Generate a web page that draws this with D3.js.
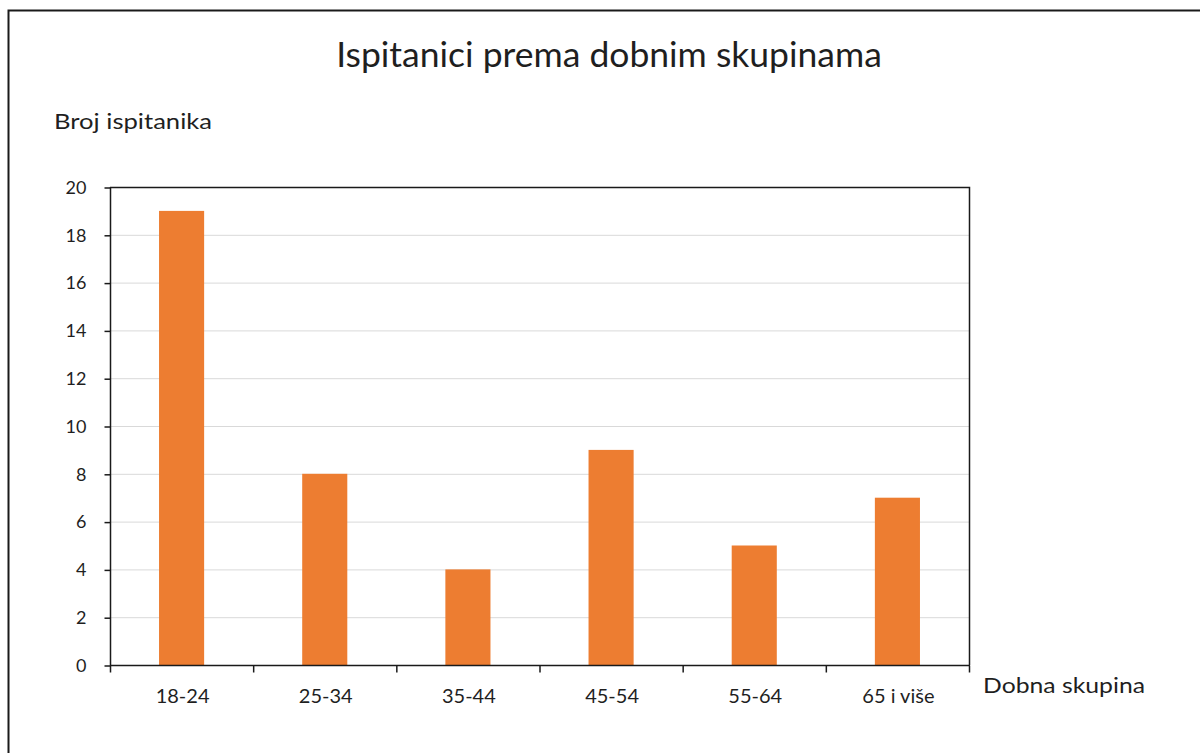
<!DOCTYPE html>
<html>
<head>
<meta charset="utf-8">
<script src="https://cdn.jsdelivr.net/npm/d3@7"></script>
<style>
  body { margin: 0; background: #fff; }
  text { font-family: Lato, "Open Sans", sans-serif; fill: #1f1f1f; }
</style>
</head>
<body>
<svg width="1200" height="753"></svg>
<script>
var groups = ["18-24", "25-34", "35-44", "45-54", "55-64", "65 i više"];
var counts = [19, 8, 4, 9, 5, 7];
var yTicks = [0, 2, 4, 6, 8, 10, 12, 14, 16, 18, 20];

var svg = d3.select("svg");

// outer frame, runs off the right and bottom edge
svg.append("rect")
    .attr("x", 8.5)
    .attr("y", 10.5)
    .attr("width", 1200)
    .attr("height", 760)
    .attr("fill", "none")
    .attr("stroke", "#1a1a1a")
    .attr("stroke-width", 2);

var plotLeft = 110, plotRight = 969, plotTop = 187, plotBottom = 665;

var x = d3.scaleBand()
    .domain(groups)
    .range([plotLeft, plotRight])
    .padding(0);

var y = d3.scaleLinear()
    .domain([0, 20])
    .range([plotBottom, plotTop]);

// gridlines
svg.selectAll(".grid")
    .data(yTicks.slice(1, -1))
    .enter().append("line")
    .attr("class", "grid")
    .attr("x1", plotLeft)
    .attr("x2", plotRight)
    .attr("y1", function(d) { return y(d) + 0.5; })
    .attr("y2", function(d) { return y(d) + 0.5; })
    .attr("stroke", "#d9d9d9")
    .attr("stroke-width", 1);

// bars
var barW = x.bandwidth() * 0.315;
svg.selectAll(".bar")
    .data(counts)
    .enter().append("rect")
    .attr("class", "bar")
    .attr("fill", "#ed7d31")
    .attr("x", function(d, i) { return x(groups[i]) + x.bandwidth() / 2 - barW / 2; })
    .attr("y", function(d) { return y(d); })
    .attr("width", barW)
    .attr("height", function(d) { return y(0) - y(d); });

// plot box top and right
svg.append("path")
    .attr("d", "M" + plotLeft + "," + (plotTop + 0.5) + "H" + (plotRight + 0.5) + "V" + plotBottom)
    .attr("fill", "none")
    .attr("stroke", "#1a1a1a")
    .attr("stroke-width", 1.5);

// y axis
var yAxis = d3.axisLeft(y)
    .tickValues(yTicks)
    .tickSize(6)
    .tickPadding(18);
var gy = svg.append("g")
    .attr("transform", "translate(" + (plotLeft + 0.5) + ",0.5)")
    .call(yAxis);
gy.select(".domain")
    .attr("d", "M0," + (plotTop - 0.5) + "V" + (plotBottom + 7))
    .attr("stroke", "#1a1a1a")
    .attr("stroke-width", 1.5);
gy.selectAll(".tick line").attr("stroke", "#1a1a1a").attr("stroke-width", 1.5);
gy.selectAll(".tick text")
    .style("font-family", "Lato, 'Open Sans', sans-serif")
    .style("font-size", "18px")
    .attr("fill", "#1f1f1f");

// x axis with ticks at category boundaries
var gx = svg.append("g")
    .attr("transform", "translate(0," + (plotBottom + 0.5) + ")");
gx.append("line")
    .attr("x1", plotLeft)
    .attr("x2", plotRight + 1)
    .attr("stroke", "#1a1a1a")
    .attr("stroke-width", 1.5);
gx.selectAll(".xtick")
    .data(groups.slice(1).concat([null]))
    .enter().append("line")
    .attr("class", "xtick")
    .attr("x1", function(d) { return d ? x(d) + 0.5 : plotRight + 0.5; })
    .attr("x2", function(d) { return d ? x(d) + 0.5 : plotRight + 0.5; })
    .attr("y1", 0)
    .attr("y2", 7)
    .attr("stroke", "#1a1a1a")
    .attr("stroke-width", 1.5);
gx.selectAll(".xlabel")
    .data(groups)
    .enter().append("text")
    .attr("class", "xlabel")
    .attr("x", function(d) { return x(d) + x.bandwidth() / 2 + 1; })
    .attr("y", 37)
    .attr("text-anchor", "middle")
    .style("font-size", "20px")
    .text(function(d) { return d; });

// titles
svg.append("text")
    .attr("x", 609)
    .attr("y", 67)
    .attr("text-anchor", "middle")
    .style("font-size", "35.5px")
    .text("Ispitanici prema dobnim skupinama");

svg.append("text")
    .attr("x", 54)
    .attr("y", 129)
    .style("font-size", "22px")
    .attr("textLength", 158)
    .attr("lengthAdjust", "spacingAndGlyphs")
    .text("Broj ispitanika");

svg.append("text")
    .attr("x", 983)
    .attr("y", 693)
    .style("font-size", "22px")
    .attr("textLength", 162)
    .attr("lengthAdjust", "spacingAndGlyphs")
    .text("Dobna skupina");
</script>
</body>
</html>
